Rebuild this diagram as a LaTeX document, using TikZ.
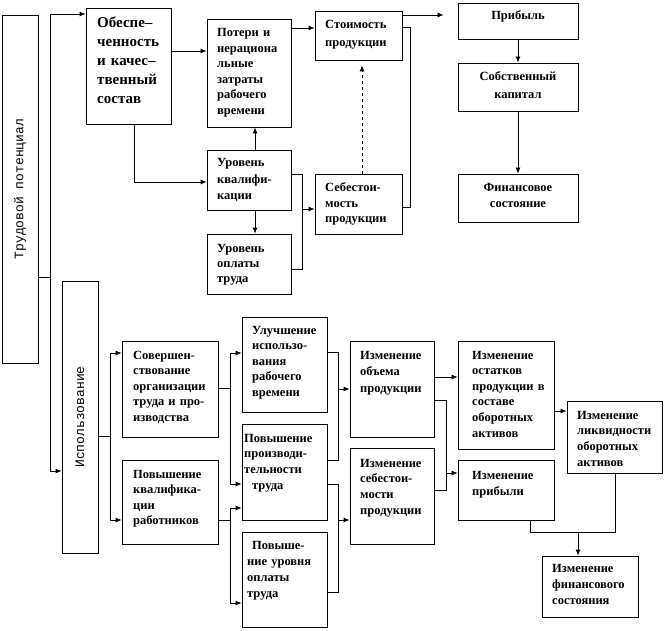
\documentclass[tikz,border=0pt]{standalone}
\usepackage{fontspec}
\setmainfont{Liberation Serif}
\newfontfamily\monof{Liberation Mono}
\usetikzlibrary{arrows.meta,fit}
\tikzset{
  box/.style={draw, line width=0.8pt, inner sep=0pt},
  txt/.style={anchor=base west, inner sep=0pt, text width=92pt, align=left,
    font=\bfseries\fontsize{12.5}{15.5}\selectfont},
  ctxt/.style={anchor=base, inner sep=0pt, text width=118pt, align=center,
    font=\bfseries\fontsize{12.5}{17}\selectfont},
  vtxt/.style={rotate=90, inner sep=0pt, font=\monof\fontsize{13}{13}\selectfont},
  ln/.style={line width=0.8pt},
  arr/.style={ln, -{Latex[length=6pt,width=5pt]}},
  barr/.style={ln, {Latex[length=6pt,width=5pt]}-{Latex[length=6pt,width=5pt]}},
}
\newcommand\bx[9][]{%
  \node[box, fit={(#3,#4)(#5,#6)}] (#2) {};
  \node[txt,#1] (#2t) at (#7,#8) {#9};
}
\begin{document}
\begin{tikzpicture}[x=1pt,y=-1pt]
\useasboundingbox (0,0) rectangle (666,631);
% vertical boxes
\node[box, fit={(2,15)(38,363)}] (trud) {};
\node[vtxt] (trudt) at (trud.center) {Трудовой потенциал};
\node[box, fit={(62,281)(98,553)}] (isp) {};
\node[vtxt] (ispt) at (isp.center) {Использование};
% top part
\bx[font=\bfseries\fontsize{15}{19}\selectfont]{obes}{86}{8}{171}{124}{97}{28}{Обеспе–\\ченность\\и качес–\\твенный\\состав}
\bx{pot}{207}{19}{291}{127}{217}{37}{Потери и\\нерациона\\льные\\затраты\\рабочего\\времени}
\bx[font=\bfseries\fontsize{12.5}{16.5}\selectfont]{kval}{207}{150}{291}{210}{217}{167}{Уровень\\квалифи-\\кации}
\bx[font=\bfseries\fontsize{12.5}{15}\selectfont]{opl}{207}{234}{291}{294}{217}{252}{Уровень\\оплаты\\труда}
\bx[font=\bfseries\fontsize{12.5}{18}\selectfont]{stoim}{315}{11}{402}{60}{325}{29}{Стоимость\\продукции}
\bx{seb}{315}{174}{402}{234}{325}{192}{Себестои-\\мость\\продукции}
\node[box, fit={(458,3)(578,39)}] (prib) {};
\node[ctxt] (pribt) at (518,20) {Прибыль};
\node[box, fit={(458,63)(578,111)}] (sobst) {};
\node[ctxt, font=\bfseries\fontsize{12.5}{18}\selectfont] (sobstt) at (518,81) {Собственный\\капитал};
\node[box, fit={(458,174)(578,222)}] (fin) {};
\node[ctxt, font=\bfseries\fontsize{12.5}{16}\selectfont] (fint) at (518,192) {Финансовое\\состояние};
% bottom part
\bx{sov}{122}{341}{218}{437}{133}{359}{Совершен-\\ствование\\организации\\труда и про-\\изводства}
\bx{pkv}{122}{460}{218}{544}{133}{478}{Повышение\\квалифика-\\ции\\работников}
\bx{ulu}{242}{317}{327}{412}{252}{334}{Улучшение\\использо-\\вания\\рабочего\\времени}
\bx[font=\bfseries\fontsize{12.5}{15.7}\selectfont]{ppr}{242}{424}{327}{520}{244}{442}{Повышение\\производи-\\тельности\\\hspace*{8pt}труда}
\bx[font=\bfseries\fontsize{12.5}{16}\selectfont]{pou}{242}{532}{327}{627}{247}{549}{\hspace*{5pt}Повыше-\\ние уровня\\оплаты\\труда}
\bx[font=\bfseries\fontsize{12.5}{16.5}\selectfont]{izo}{350}{341}{434}{437}{360}{359}{Изменение\\объема\\продукции}
\bx[font=\bfseries\fontsize{12.5}{15.7}\selectfont]{izs}{350}{448}{434}{544}{360}{467}{Изменение\\себестои-\\мости\\продукции}
\bx[font=\bfseries\fontsize{12.5}{15.6}\selectfont]{ost}{458}{341}{554}{449}{472}{359}{Изменение\\остатков\\продукции в\\составе\\оборотных\\активов}
\bx[font=\bfseries\fontsize{12.5}{15.7}\selectfont]{likv}{567}{401}{662}{473}{577}{419}{Изменение\\ликвидности\\оборотных\\активов}
\bx[font=\bfseries\fontsize{12.5}{16.5}\selectfont]{izp}{458}{460}{554}{520}{472}{479}{Изменение\\прибыли}
\bx[font=\bfseries\fontsize{12.5}{16}\selectfont]{izf}{542}{556}{638}{617}{552}{572}{Изменение\\финансового\\состояния}
% connectors top
\draw[ln] (trud.east |- 0,277) -- (50,277);
\draw[barr] (obes.west |- 0,14) -- (50,14) -- (50,471) -- (isp.west |- 0,471);
\draw[arr] (obes.east |- 0,51) -- (pot.west |- 0,51);
\draw[arr] (obes.south -| 134,0) -- (134,182) -- (kval.west |- 0,182);
\draw[arr] (kval.north -| 255,0) -- (pot.south -| 255,0);
\draw[arr] (kval.south -| 255,0) -- (opl.north -| 255,0);
\draw[ln] (kval.east |- 0,174) -- (302,174) -- (302,269) -- (opl.east |- 0,269);
\draw[arr] (302,209) -- (seb.west |- 0,209);
\draw[arr] (pot.east |- 0,28) -- (stoim.west |- 0,28);
\draw[arr, dashed, shorten >=5pt] (seb.north -| 362,0) -- (stoim.south -| 362,0);
\draw[arr, shorten >=14pt] (stoim.east |- 0,15) -- (prib.west |- 0,15);
\draw[ln] (stoim.east |- 0,27) -- (410,27) -- (410,207) -- (seb.east |- 0,207);
\draw[arr] (prib.south) -- (sobst.north);
\draw[arr] (sobst.south) -- (fin.north);
% connectors bottom
\draw[ln] (isp.east |- 0,436) -- (110,436);
\draw[barr] (sov.west |- 0,353) -- (110,353) -- (110,520) -- (pkv.west |- 0,520);
\draw[ln] (sov.east |- 0,388) -- (230,388);
\draw[barr] (ulu.west |- 0,353) -- (230,353) -- (230,484) -- (ppr.west |- 0,484);
\draw[ln] (pkv.east |- 0,520) -- (230,520);
\draw[barr] (ppr.west |- 0,508) -- (230,508) -- (230,603) -- (pou.west |- 0,603);
\draw[ln] (ulu.east |- 0,352) -- (338,352) -- (338,460) -- (ppr.east |- 0,460);
\draw[arr] (338,389) -- (izo.west |- 0,389);
\draw[ln] (ppr.east |- 0,484) -- (338,484) -- (338,592) -- (pou.east |- 0,592);
\draw[arr] (338,520) -- (izs.west |- 0,520);
\draw[arr] (izo.east |- 0,377) -- (ost.west |- 0,377);
\draw[ln] (izo.east |- 0,400) -- (446,400) -- (446,490) -- (izs.east |- 0,490);
\draw[arr] (446,473) -- (izp.west |- 0,473);
\draw[arr] (ost.east |- 0,411) -- (likv.west |- 0,411);
\draw[ln] (izp.south -| 530,0) -- (530,532) -- (615,532) -- (likv.south -| 615,0);
\draw[arr] (578,532) -- (izf.north -| 578,0);
\end{tikzpicture}
\end{document}
